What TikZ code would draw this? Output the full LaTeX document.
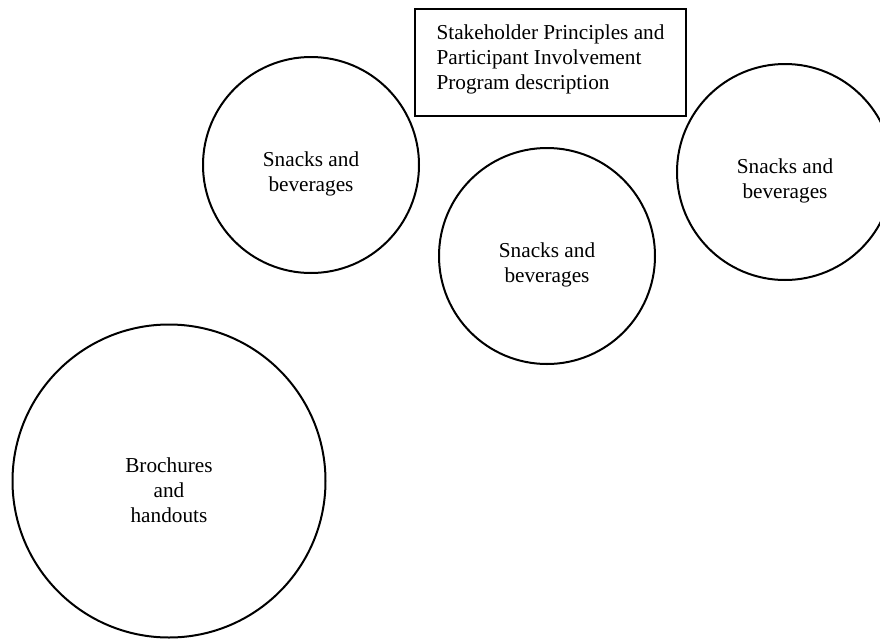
\documentclass[tikz,border=0pt]{standalone}
\usepackage{fontspec}
\setmainfont{Liberation Serif}
\usepackage{tikz}

\begin{document}
\begin{tikzpicture}[line width=0.04cm,
   every node/.style={font=\fontsize{12.1}{14.2}\selectfont},
   bubble/.style={draw, circle, align=center},
   small/.style={bubble, minimum size=4.32cm, text height=1.13cm, text depth=0.09cm},
   big/.style={bubble, minimum size=6.26cm, text height=1.65cm, text depth=0cm}]
   \useasboundingbox (0,0) rectangle (17.6,-12.78);
   \node[draw, anchor=north west, align=left, minimum width=5.42cm,
         minimum height=2.14cm, text depth=0.23cm] (desc) at (8.28,-0.16)
         {Stakeholder Principles and\\Participant Involvement\\Program description};
   \node[small] (snl) at (6.22,-3.30) {Snacks and\\beverages}; % left snacks
   \node[small] (snm) at (10.94,-5.12) {Snacks and\\beverages}; % middle snacks
   \node[small] (snr) at (15.70,-3.44) {Snacks and\\beverages}; % right snacks
   \node[big] (broc) at (3.38,-9.62) {Brochures\\and\\handouts};
\end{tikzpicture}
\end{document}
